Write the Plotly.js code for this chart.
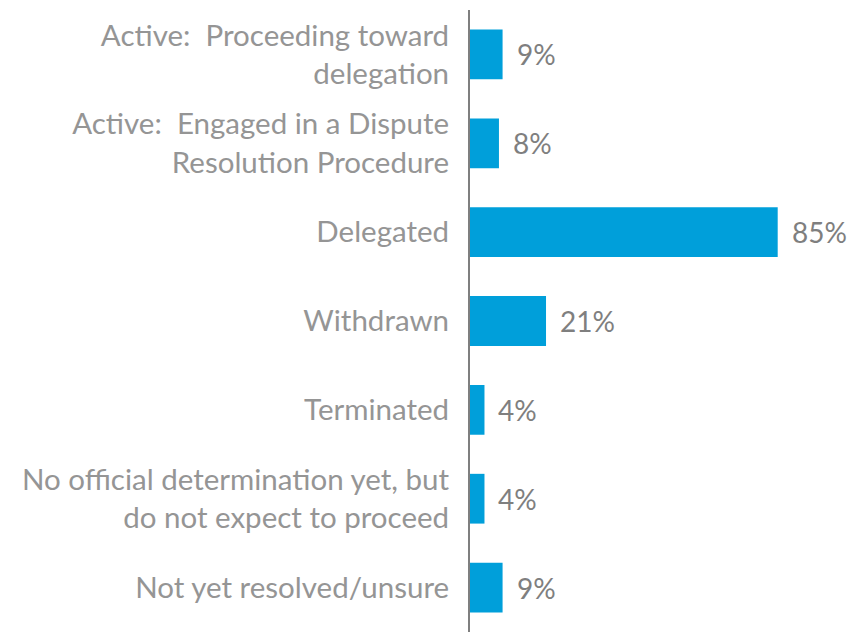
<!DOCTYPE html>
<html>
<head>
<meta charset="utf-8">
<script src="https://cdn.plot.ly/plotly-3.0.1.min.js"></script>
<style>
  body { margin: 0; background: #fff; }
  #plot { width: 856px; height: 633px; }
</style>
</head>
<body>
<div id="plot"></div>
<script>
// Status of applications (share of respondents)
var statuses = [
  "Active:  Proceeding toward<br>delegation",
  "Active:  Engaged in a Dispute<br>Resolution Procedure",
  "Delegated",
  "Withdrawn",
  "Terminated",
  "No official determination yet, but<br>do not expect to proceed",
  "Not yet resolved/unsure"
];
var shares = [9, 8, 85, 21, 4, 4, 9];

var bars = {
  type: "bar",
  orientation: "h",
  x: shares,
  y: statuses,
  marker: { color: "#009fda" },
  hoverinfo: "none"
};

// value labels to the right of each bar
var labels = shares.map(function (v, i) {
  return {
    x: v,
    y: statuses[i],
    text: v + "%",
    xanchor: "left",
    xshift: 12,
    showarrow: false,
    font: { family: "Lato, sans-serif", size: 28, color: "#7f7f7f" }
  };
});

var layout = {
  width: 856,
  height: 633,
  margin: { l: 470, r: 24, t: 10, b: 1 },
  paper_bgcolor: "#fff",
  plot_bgcolor: "#fff",
  showlegend: false,
  bargap: 0.44,
  xaxis: {
    range: [0, 100],
    visible: false,
    fixedrange: true
  },
  yaxis: {
    autorange: "reversed",
    showline: true,
    linecolor: "#7f7f7f",
    linewidth: 2,
    showgrid: false,
    zeroline: false,
    ticks: "",
    ticklabelstandoff: 13,
    tickfont: { family: "Lato, sans-serif", size: 29.5, color: "#959595" }
  },
  annotations: labels
};

Plotly.newPlot("plot", [bars], layout, { displayModeBar: false, staticPlot: true });
</script>
</body>
</html>
